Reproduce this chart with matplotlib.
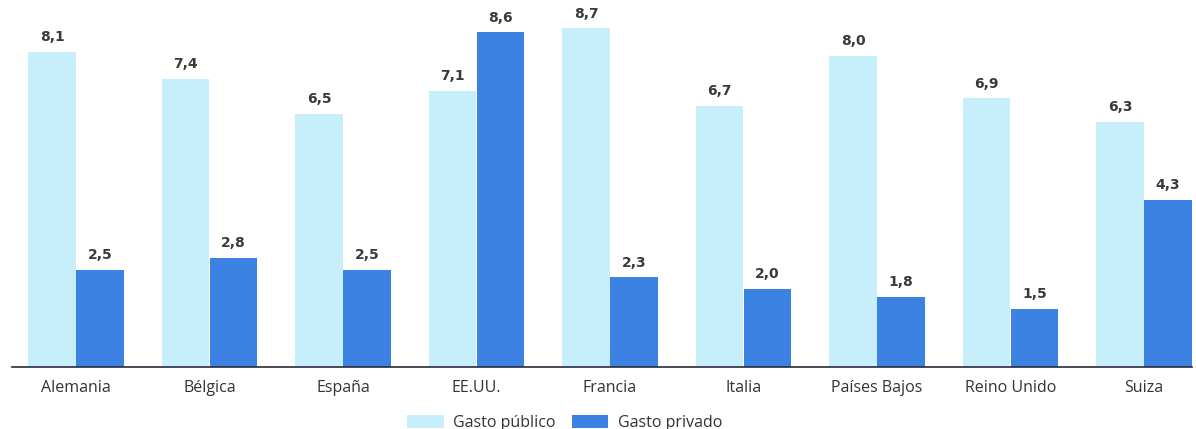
import matplotlib
matplotlib.use("Agg")
import matplotlib.pyplot as plt
import numpy as np

paises = ["Alemania", "Bélgica", "España", "EE.UU.", "Francia", "Italia",
          "Países Bajos", "Reino Unido", "Suiza"]
gasto_publico = [8.1, 7.4, 6.5, 7.1, 8.7, 6.7, 8.0, 6.9, 6.3]
gasto_privado = [2.5, 2.8, 2.5, 8.6, 2.3, 2.0, 1.8, 1.5, 4.3]
series_nombres = ["Gasto público", "Gasto privado"]

plt.rcParams['font.family'] = ['Open Sans', 'DejaVu Sans']

color_pub = "#c6effb"
color_priv = "#3c82e2"

fig = plt.figure(figsize=(11.96, 4.29), dpi=100)
ax = fig.add_axes([12/1196, 62/429, 1180/1196, 367/429])

x = np.arange(len(paises))
w = 0.355
off = 0.18
b1 = ax.bar(x - off, gasto_publico, w, color=color_pub, label=series_nombres[0])
b2 = ax.bar(x + off, gasto_privado, w, color=color_priv, label=series_nombres[1])

def fmt(v):
    return f"{v:.1f}".replace(".", ",")

for bars, vals in ((b1, gasto_publico), (b2, gasto_privado)):
    for r, v in zip(bars, vals):
        ax.text(r.get_x() + r.get_width() / 2, v + 0.2, fmt(v), ha="center",
                va="bottom", fontsize=10, fontweight="bold", color="#3a3a3a",
                family="DejaVu Sans")

ax.set_xlim(-0.48, 8.36)
ax.set_ylim(0, 9.43)
ax.set_yticks([])
ax.set_xticks(x)
ax.set_xticklabels(paises, fontsize=11.5, color="#333333")
ax.tick_params(axis="x", length=0, pad=9)
for s in ("top", "right", "left"):
    ax.spines[s].set_visible(False)
ax.spines["bottom"].set_color("#2b2b3a")
ax.spines["bottom"].set_linewidth(1.2)

fig.legend(handles=[b1, b2], labels=series_nombres, loc="lower center",
           bbox_to_anchor=(0.472, -0.038), ncol=2, frameon=False,
           fontsize=11.5, handlelength=2.3, handleheight=0.9, columnspacing=1.0,
           handletextpad=0.6, labelcolor="#333333")

fig.savefig("out.png", dpi=100)
